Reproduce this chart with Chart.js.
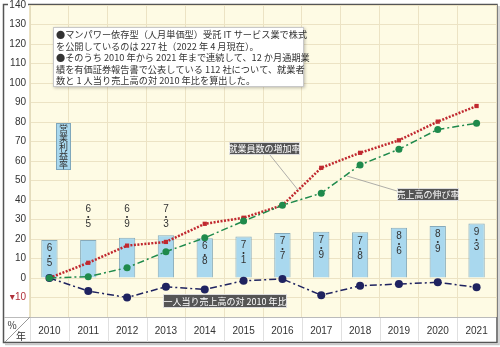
<!DOCTYPE html>
<html><head><meta charset="utf-8">
<script src="https://cdn.jsdelivr.net/npm/chart.js@4"></script>
<style>html,body{margin:0;padding:0;background:#fff}canvas{display:block}</style>
</head><body>
<canvas id="c" width="500" height="347"></canvas>
<script>
const years = ['2010','2011','2012','2013','2014','2015','2016','2017','2018','2019','2020','2021'];
const operatingMargin = [6.5,6.5,6.9,7.3,6.8,7.1,7.7,7.9,7.8,8.6,8.9,9.3];
const employeeGrowth = [0,7.8,16.6,18.5,27.8,30.9,37.3,56.5,64.2,70.6,80.2,88.2];
const salesGrowth = [0,0.7,5.3,13.5,20.6,29.2,37.3,43.5,58.0,66.0,76.2,79.3];
const perCapitaSales = [0,-6.7,-10.0,-4.5,-5.9,-1.4,-0.5,-8.8,-4.0,-3.1,-2.2,-4.8];
const marginScale = 3;
const marginBars = operatingMargin.map(v => v * marginScale);
const noteLines = [
  '●マンパワー依存型（人月単価型）受託 IT サービス業で株式',
  'を公開しているのは 227 社（2022 年 4 月現在）。',
  '●そのうち 2010 年から 2021 年まで連続して、12 か月通期業',
  '績を有価証券報告書で公表している 112 社について、就業者',
  '数と 1 人当り売上高の対 2010 年比を算出した。'
];
const JP = "'Noto Sans CJK JP', sans-serif";
const NUM = "'Liberation Sans','DejaVu Sans', sans-serif";

const deco = {
  id: 'deco',
  beforeDraw(chart) {
    const ctx = chart.ctx, a = chart.chartArea;
    ctx.save();
    ctx.fillStyle = '#fff';
    ctx.fillRect(0, 0, 500, 347);
    ctx.fillStyle = '#fefbe4';
    ctx.fillRect(a.left, a.top, a.right - a.left, a.bottom - a.top);
    // shadow
    ctx.strokeStyle = '#c8c8c8'; ctx.lineWidth = 1.5;
    ctx.beginPath(); ctx.moveTo(499, 6); ctx.lineTo(499, 344.5); ctx.lineTo(5, 344.5); ctx.stroke();
    // frame
    ctx.strokeStyle = '#555'; ctx.lineWidth = 1.5;
    ctx.beginPath();
    ctx.moveTo(8, 4.5); ctx.lineTo(3.5, 4.5); ctx.lineTo(3.5, 342.5); ctx.lineTo(497, 342.5); ctx.lineTo(497, 4.5); ctx.lineTo(28, 4.5);
    ctx.stroke();
    ctx.restore();
  },
  afterDraw(chart) {
    const ctx = chart.ctx, a = chart.chartArea, xs = chart.scales.x, ys = chart.scales.y;
    ctx.save();
    // bottom row
    ctx.strokeStyle = '#bbb'; ctx.lineWidth = 1;
    ctx.beginPath(); ctx.moveTo(4, a.bottom + 0.5); ctx.lineTo(496, a.bottom + 0.5); ctx.stroke();
    ctx.strokeStyle = '#e0e0e0';
    const cw = (a.right - a.left) / years.length;
    for (let k = 0; k < years.length; k++) {
      const x = Math.round(a.left + k * cw) + 0.5;
      ctx.beginPath(); ctx.moveTo(x, a.bottom + 1); ctx.lineTo(x, 342); ctx.stroke();
    }
    ctx.strokeStyle = '#999';
    ctx.beginPath(); ctx.moveTo(5, 342); ctx.lineTo(a.left, a.bottom); ctx.stroke();
    ctx.fillStyle = '#333'; ctx.font = '10px ' + JP; ctx.textAlign = 'center'; ctx.textBaseline = 'middle';
    ctx.fillText('%', 12, 325);
    ctx.fillText('年', 21, 336);

    // bar labels (vertical)
    ctx.font = '10px ' + NUM; ctx.fillStyle = '#333';
    operatingMargin.forEach((v, i) => {
      const s = v.toFixed(1);
      const chars = [s[0], '・', s[2]];
      const x = xs.getPixelForValue(i);
      let y0;
      if (i >= 1 && i <= 3) y0 = ys.getPixelForValue(35.5);
      else y0 = ys.getPixelForValue(marginBars[i]) + 8.5;
      chars.forEach((c, j) => {
        if (c === '・') { ctx.font = '9px ' + JP; } else { ctx.font = '10px ' + NUM; }
        ctx.fillText(c, x, y0 + j * 7.5);
      });
    });

    // note box
    ctx.shadowColor = 'rgba(0,0,0,0.25)'; ctx.shadowBlur = 3; ctx.shadowOffsetX = 1; ctx.shadowOffsetY = 1;
    ctx.fillStyle = '#fff';
    ctx.fillRect(53, 27, 251, 60);
    ctx.shadowColor = 'transparent';
    ctx.strokeStyle = '#c8c8c8'; ctx.strokeRect(53.5, 27.5, 250, 59);
    ctx.fillStyle = '#333'; ctx.font = '9.2px ' + JP; ctx.textAlign = 'left';
    noteLines.forEach((t, i) => ctx.fillText(t, 56, 34.5 + i * 11.6));

    // 営業利益率 box
    ctx.fillStyle = '#a9d8ee'; ctx.fillRect(56, 123, 15, 47);
    ctx.strokeStyle = '#7fa7bb'; ctx.strokeRect(56.5, 123.5, 14, 46);
    ctx.fillStyle = '#333'; ctx.font = '9px ' + JP; ctx.textAlign = 'center';
    '営業利益率'.split('').forEach((c, i) => ctx.fillText(c, 63.5, 129 + i * 9));

    // leader lines
    ctx.strokeStyle = '#999'; ctx.lineWidth = 0.8;
    ctx.beginPath(); ctx.moveTo(270, 155); ctx.lineTo(298, 190); ctx.stroke();
    ctx.beginPath(); ctx.moveTo(397, 191); ctx.lineTo(347, 176); ctx.stroke();

    // dark labels
    const darkBox = (x, y, w, h, t) => {
      ctx.fillStyle = '#555'; ctx.fillRect(x, y, w, h);
      ctx.strokeStyle = '#ddd'; ctx.lineWidth = 1; ctx.strokeRect(x + 0.5, y + 0.5, w - 1, h - 1);
      ctx.fillStyle = '#fff'; ctx.font = '9px ' + JP; ctx.textAlign = 'center';
      ctx.fillText(t, x + w / 2, y + h / 2 + 0.5);
    };
    darkBox(229, 142, 71, 13, '就業員数の増加率');
    darkBox(397, 188, 62, 13, '売上高の伸び率');
    darkBox(163, 294, 124, 14, '一人当り売上高の対 2010 年比');
    ctx.restore();
  }
};

new Chart(document.getElementById('c'), {
  type: 'bar',
  data: {
    labels: years,
    datasets: [
      {
        type: 'line', label: '就業員数の増加率', data: employeeGrowth, order: 2,
        borderColor: '#c0282f', backgroundColor: '#c0282f', borderWidth: 2.5,
        borderDash: [2, 1.5], pointStyle: 'rect', pointRadius: 3, pointBorderWidth: 0, fill: false, tension: 0
      },
      {
        type: 'line', label: '売上高の伸び率', data: salesGrowth, order: 1,
        borderColor: '#1f8a4c', backgroundColor: '#1f8a4c', borderWidth: 1.5,
        borderDash: [7, 3, 2, 3], pointStyle: 'circle', pointRadius: 3.5, pointBorderWidth: 0, fill: false, tension: 0
      },
      {
        type: 'line', label: '一人当り売上高の対 2010 年比', data: perCapitaSales, order: 3,
        borderColor: '#1f2360', backgroundColor: '#1f2360', borderWidth: 1.5,
        borderDash: [7, 3, 2, 3], pointStyle: 'circle', pointRadius: 4, pointBorderWidth: 0, fill: false, tension: 0
      },
      {
        type: 'bar', label: '営業利益率', data: marginBars, order: 10,
        backgroundColor: '#a9d8ee', borderColor: '#86aabb', borderWidth: 1,
        barPercentage: 0.42, categoryPercentage: 1
      }
    ]
  },
  options: {
    responsive: false, animation: false, devicePixelRatio: 1,
    layout: { padding: { left: 0, right: 3, top: 5, bottom: 5 } },
    plugins: { legend: { display: false }, tooltip: { enabled: false } },
    scales: {
      x: {
        grid: { color: '#ece3c4', drawTicks: false, offset: true },
        border: { display: false },
        ticks: { color: '#333', font: { size: 10, family: NUM }, padding: 8, maxRotation: 0 },
        afterFit(s) { s.height = 25; s.paddingLeft = 0; s.paddingRight = 0; }
      },
      y: {
        min: -20, max: 140,
        grid: { color: '#ece3c4', drawTicks: false },
        border: { color: '#e4dcbc' },
        ticks: {
          stepSize: 10, padding: 4, font: { size: 10, family: NUM },
          color: c => (c.tick && c.tick.value === -10) ? '#b0303a' : '#333',
          callback: v => v === -20 ? '' : (v === -10 ? '▾10' : String(v))
        },
        afterFit(s) { s.width = 30; s.paddingTop = 0; s.paddingBottom = 0; }
      }
    }
  },
  plugins: [deco]
});
</script>
</body></html>
